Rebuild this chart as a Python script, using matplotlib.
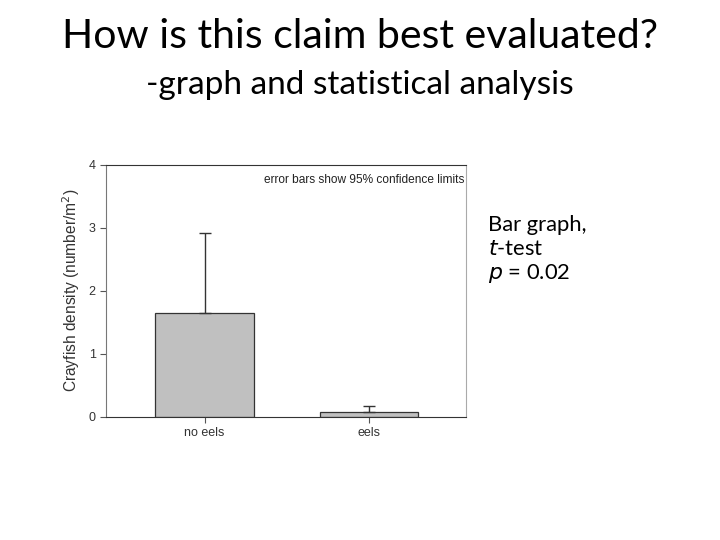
import matplotlib.pyplot as plt

groups = ['no eels', 'eels']
density = [1.64, 0.075]
ci_upper = [1.27, 0.10]
yticks = [0, 1, 2, 3, 4]

fig = plt.figure(figsize=(7.2, 5.4), dpi=100)
fig.text(0.5, 0.932, 'How is this claim best evaluated?', ha='center', va='center',
         fontsize=29.5, family='Lato')
fig.text(0.5, 0.842, '-graph and statistical analysis', ha='center', va='center',
         fontsize=24, family='Lato')

ax = fig.add_axes([0.1472, 0.2283, 0.4996, 0.4667])
x = range(len(groups))
ax.bar(x, density, width=0.6, color='#c0c0c0', edgecolor='#333333', linewidth=0.9)
ax.errorbar(x, density, yerr=[[0, 0], ci_upper], fmt='none', ecolor='#333333',
            elinewidth=1.0, capsize=4, capthick=1.0)
ax.set_xlim(-0.6, 1.59)
ax.set_ylim(0, 4)
ax.set_yticks(yticks)
ax.set_xticks(list(x))
ax.set_xticklabels(groups, family='Liberation Sans', fontsize=9, color='#333333')
ax.tick_params(axis='both', direction='out', length=4, width=0.8, color='#555555',
               labelsize=9, labelcolor='#333333')
for lbl in ax.get_yticklabels():
    lbl.set_family('Liberation Sans')
ax.set_ylabel('Crayfish density (number/m$^2$)', family='Liberation Sans',
              fontsize=11.2, color='#333333', labelpad=5)
ax.spines['top'].set_color('#333333')
ax.spines['bottom'].set_color('#333333')
ax.spines['left'].set_color('#777777')
ax.spines['right'].set_color('#aaaaaa')
ax.text(0.997, 0.965, 'error bars show 95% confidence limits', transform=ax.transAxes,
        ha='right', va='top', fontsize=8.6, family='Liberation Sans', color='#222222')

fig.text(0.678, 0.573, 'Bar graph,', fontsize=15.8, family='Lato', va='baseline')
fig.text(0.678, 0.528, '$\\it{t}$-test', fontsize=15.8, family='Lato', va='baseline')
fig.text(0.678, 0.483, '$\\it{p}$ = 0.02', fontsize=15.8, family='Lato', va='baseline')

fig.savefig('out.png', dpi=100)
